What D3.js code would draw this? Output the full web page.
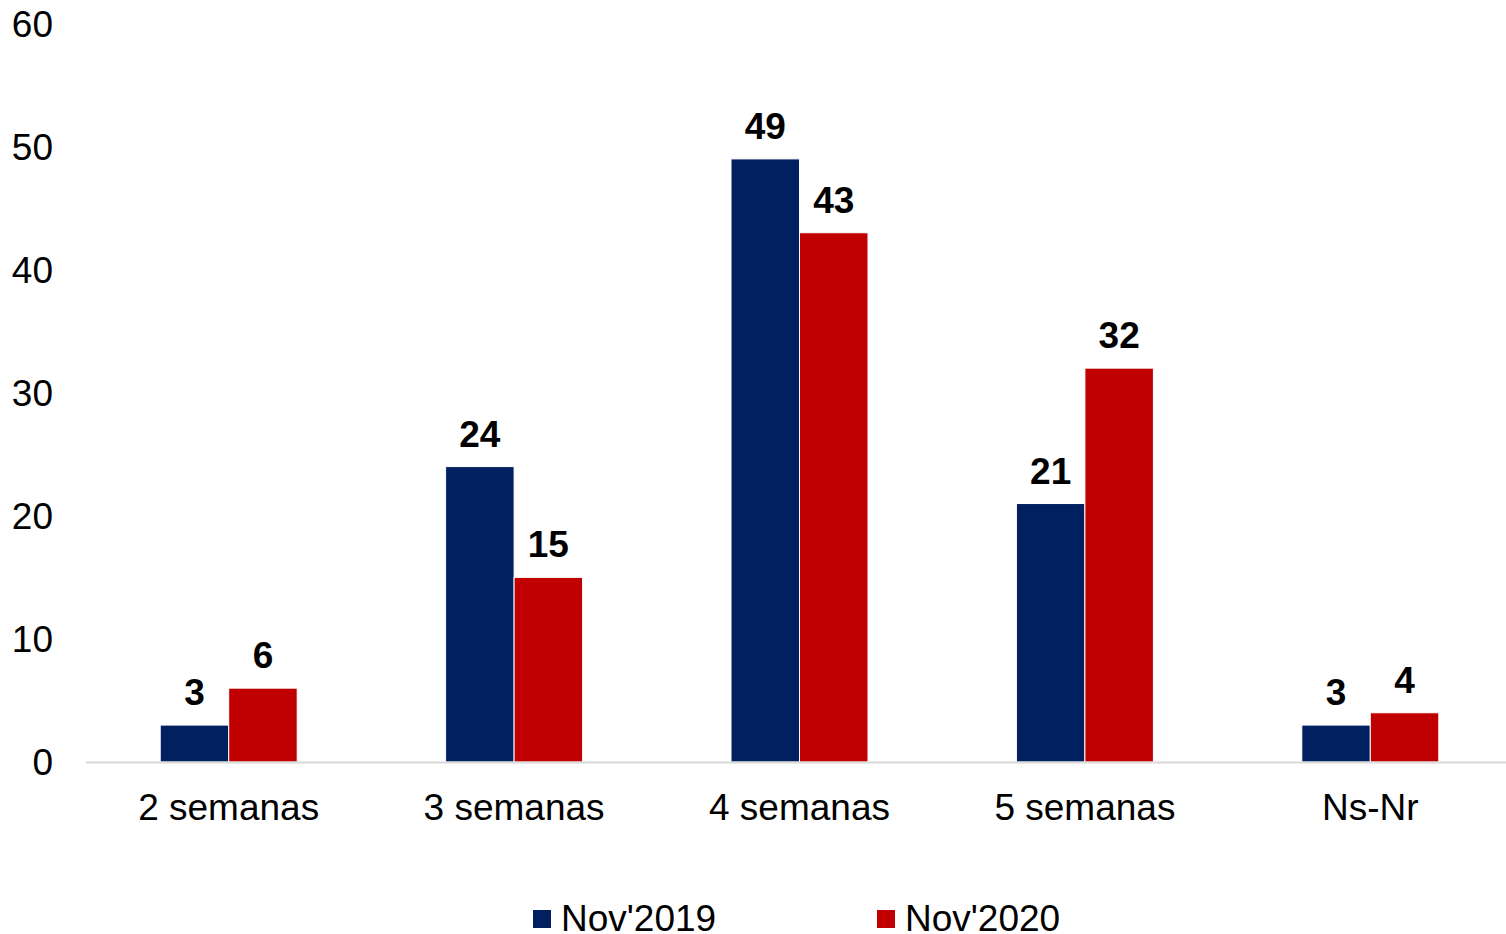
<!DOCTYPE html>
<html>
<head>
<meta charset="utf-8">
<script src="https://cdn.jsdelivr.net/npm/d3@7"></script>
<style>
  html, body { margin: 0; padding: 0; background: #fff; }
  svg { display: block; font-family: "Liberation Sans", Arial, sans-serif; }
</style>
</head>
<body>
<svg id="chart" width="1506" height="934"></svg>
<script>
const categories = ["2 semanas", "3 semanas", "4 semanas", "5 semanas", "Ns-Nr"];
const seriesNames = ["Nov'2019", "Nov'2020"];
const nov2019 = [3, 24, 49, 21, 3];
const nov2020 = [6, 15, 43, 32, 4];
const yTicks = [0, 10, 20, 30, 40, 50, 60];
const colors = ["#002060", "#C00000"];

const seriesValues = [nov2019, nov2020];
const svg = d3.select("#chart");

const x = d3.scaleBand().domain(categories).range([86, 1513]).paddingInner(0).paddingOuter(0);
const x1 = d3.scaleBand().domain(seriesNames).range([0, x.bandwidth() * 0.48]);
const groupOffset = x.bandwidth() * 0.26;
const y = d3.scaleLinear().domain([0, 60]).range([762, 23.5]);

// y tick labels
svg.append("g").selectAll("text").data(yTicks).join("text")
  .attr("x", 53).attr("y", d => y(d) + 13)
  .attr("text-anchor", "end")
  .attr("font-size", 37).attr("fill", "#000")
  .text(d => d);

// bars
const groups = svg.append("g").selectAll("g").data(categories).join("g")
  .attr("transform", c => `translate(${x(c) + groupOffset},0)`);

groups.selectAll("rect").data((c, i) => seriesNames.map((s, j) => ({s, j, v: seriesValues[j][i]})))
  .join("rect")
  .attr("x", d => x1(d.s))
  .attr("y", d => y(d.v))
  .attr("width", x1.bandwidth())
  .attr("height", d => y(0) - y(d.v))
  .attr("fill", d => colors[d.j])
  .attr("stroke", "#fff").attr("stroke-width", 1);

groups.selectAll("text.lbl").data((c, i) => seriesNames.map((s, j) => ({s, j, v: seriesValues[j][i]})))
  .join("text").attr("class", "lbl")
  .attr("x", d => x1(d.s) + x1.bandwidth() / 2)
  .attr("y", d => y(d.v) - 20)
  .attr("text-anchor", "middle")
  .attr("font-size", 37).attr("font-weight", "bold").attr("fill", "#000")
  .text(d => d.v);

// x axis line
svg.append("line").attr("x1", 86).attr("x2", 1506).attr("y1", y(0) + 0.5).attr("y2", y(0) + 0.5)
  .attr("stroke", "#d9d9d9").attr("stroke-width", 2);

// x labels
svg.append("g").selectAll("text").data(categories).join("text")
  .attr("x", c => x(c) + x.bandwidth() / 2)
  .attr("y", 820)
  .attr("text-anchor", "middle")
  .attr("font-size", 37).attr("fill", "#000")
  .text(c => c);

// legend
const legendX = [533, 877];
const legend = svg.append("g").selectAll("g").data(seriesNames).join("g")
  .attr("transform", (d, i) => `translate(${legendX[i]},0)`);
legend.append("rect").attr("x", 0).attr("y", 910).attr("width", 18).attr("height", 18)
  .attr("fill", (d, i) => colors[i]);
legend.append("text").attr("x", 28).attr("y", 931)
  .attr("font-size", 37).attr("fill", "#000")
  .text(d => d);
</script>
</body>
</html>
